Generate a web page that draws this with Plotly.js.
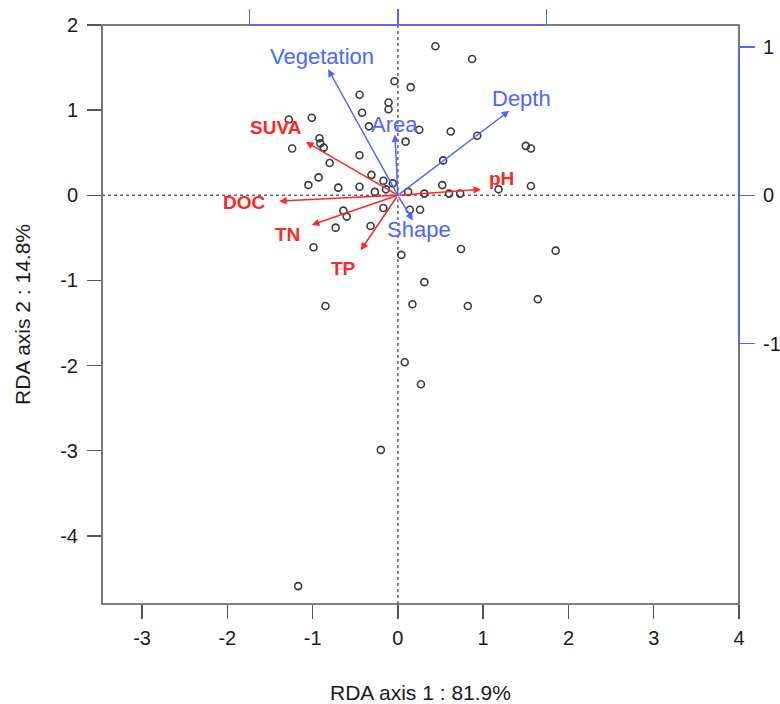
<!DOCTYPE html>
<html>
<head>
<meta charset="utf-8">
<script src="https://cdn.plot.ly/plotly-3.0.1.min.js"></script>
<style>html,body{margin:0;padding:0;background:#fff;}#chart{width:780px;height:704px;}</style>
</head>
<body>
<div id="chart"></div>
<script>
// Site scores (RDA axis 1, RDA axis 2)
const siteX = [0.44, 0.87, -0.04, 0.15, -0.45, -0.11, -0.11, -0.42, -1.01, -1.28,
  -0.34, 0.25, 0.62, 0.93, 0.09, -0.92, -0.91, -0.87, -1.24, 1.50,
  1.56, -0.45, -0.80, 0.53, -0.31, -0.93, -1.05, -0.70, -0.45, -0.17,
  -0.06, -0.27, -0.14, 0.12, 0.52, 0.31, 0.60, 0.73, 1.18, 1.56,
  -0.64, -0.60, -0.17, 0.14, 0.26, -0.73, -0.32, -0.99, 0.74, 0.04,
  1.85, 0.31, 1.64, -0.85, 0.17, 0.82, 0.08, 0.27, -0.20, -1.17];
const siteY = [1.75, 1.60, 1.34, 1.27, 1.18, 1.09, 1.01, 0.97, 0.91, 0.89,
  0.81, 0.77, 0.75, 0.70, 0.63, 0.67, 0.61, 0.56, 0.55, 0.58,
  0.55, 0.47, 0.38, 0.41, 0.24, 0.21, 0.12, 0.09, 0.10, 0.17,
  0.14, 0.04, 0.07, 0.04, 0.12, 0.02, 0.02, 0.02, 0.07, 0.11,
  -0.18, -0.25, -0.15, -0.17, -0.17, -0.38, -0.36, -0.61, -0.63, -0.70,
  -0.65, -1.02, -1.22, -1.30, -1.28, -1.30, -1.96, -2.22, -2.99, -4.59];

// Morphometric variables (blue), on the secondary scale
const morphNames = ['Vegetation', 'Area', 'Depth', 'Shape'];
const morphX = [-0.47, -0.02, 0.75, 0.10];
const morphY = [0.85, 0.41, 0.57, -0.17];

// Chemical variables (red), on the secondary scale
const chemNames = ['SUVA', 'DOC', 'TN', 'TP', 'pH'];
const chemX = [-0.62, -0.80, -0.58, -0.25, 0.56];
const chemY = [0.36, -0.04, -0.20, -0.37, 0.04];

// Tick values
const xTicks = [-3, -2, -1, 0, 1, 2, 3, 4];
const yTicks = [2, 1, 0, -1, -2, -3, -4];
const secTicks = [-1, 0, 1];

const xTitle = 'RDA axis 1 : 81.9%';
const yTitle = 'RDA axis 2 : 14.8%';

// ---- styling ----
const FONT = 'Liberation Sans, Arial, Helvetica, sans-serif';
const BLUE = '#4a68ff';
const RED = '#ff2626';
const GRAY = '#555555';
const xRange = [-3.47, 4.0];
const yRange = [-4.80, 2.0];
const k = 1.741; // ratio between secondary and primary scales
const x2Range = [xRange[0] / k, xRange[1] / k];
const y2Range = [yRange[0] / k, yRange[1] / k];

const morphShift = {
  'Vegetation': [-6, 13], 'Area': [0, 10], 'Depth': [12, 12], 'Shape': [6, -9]
};
const chemShift = {
  'SUVA': [-30, 14], 'DOC': [-35, -1], 'TN': [-24, -10], 'TP': [-17, -18], 'pH': [20, 11]
};

const traces = [
  {
    type: 'scatter', mode: 'markers', x: siteX, y: siteY, xaxis: 'x', yaxis: 'y',
    marker: {symbol: 'circle-open', size: 7, color: '#3a3a3a', line: {width: 1.6, color: '#3a3a3a'}},
    hoverinfo: 'skip', showlegend: false
  },
  {
    type: 'scatter', mode: 'markers', x: morphX.concat(chemX), y: morphY.concat(chemY),
    xaxis: 'x2', yaxis: 'y2', marker: {opacity: 0, size: 1}, hoverinfo: 'skip', showlegend: false
  }
];

const annotations = [];
function addArrows(names, xs, ys, color, shifts, font) {
  names.forEach((n, i) => {
    annotations.push({
      x: xs[i], y: ys[i], ax: 0, ay: 0, xref: 'x2', yref: 'y2', axref: 'x2', ayref: 'y2',
      text: '', showarrow: true, arrowhead: 2, arrowsize: 1, arrowwidth: 1.5,
      arrowcolor: color, standoff: 0
    });
  });
  names.forEach((n, i) => {
    annotations.push({
      x: xs[i], y: ys[i], xref: 'x2', yref: 'y2', text: n, showarrow: false,
      xanchor: 'center', yanchor: 'middle', xshift: shifts[n][0], yshift: shifts[n][1],
      font: font
    });
  });
}
addArrows(morphNames, morphX, morphY, BLUE, morphShift, {family: FONT, size: 22, color: BLUE});
addArrows(chemNames, chemX, chemY, RED, chemShift, {family: FONT, size: 19, color: RED, weight: 'bold'});

annotations.push({
  xref: 'paper', yref: 'paper', x: 0.5, y: -0.152, yanchor: 'middle', xanchor: 'center',
  text: xTitle, showarrow: false, font: {family: FONT, size: 21, color: '#1a1a1a'}
});
annotations.push({
  xref: 'paper', yref: 'paper', x: -0.125, y: 0.5, xanchor: 'center', yanchor: 'middle',
  text: yTitle, textangle: -90, showarrow: false, font: {family: FONT, size: 21, color: '#1a1a1a'}
});

const shapes = [
  {type: 'line', xref: 'x', yref: 'paper', x0: 0, x1: 0, y0: 0, y1: 1, layer: 'below',
   line: {color: '#666', width: 1.5, dash: 'dot'}},
  {type: 'line', xref: 'paper', yref: 'y', x0: 0, x1: 1, y0: 0, y1: 0, layer: 'below',
   line: {color: '#666', width: 1.5, dash: 'dot'}},
  {type: 'rect', xref: 'paper', yref: 'paper', x0: 0, x1: 1, y0: 0, y1: 1,
   line: {color: GRAY, width: 1.6}},
  {type: 'line', xref: 'x2', yref: 'paper', x0: secTicks[0], x1: secTicks[secTicks.length - 1], y0: 1, y1: 1,
   line: {color: BLUE, width: 1.6}},
  {type: 'line', xref: 'paper', yref: 'y2', x0: 1, x1: 1, y0: secTicks[0], y1: secTicks[secTicks.length - 1],
   line: {color: BLUE, width: 1.6}}
];

const tickFont = {family: FONT, size: 20, color: '#1a1a1a'};
const layout = {
  width: 780, height: 704,
  margin: {l: 102, r: 41, t: 25, b: 100},
  paper_bgcolor: '#fff', plot_bgcolor: '#fff',
  showlegend: false,
  xaxis: {
    range: xRange, tickvals: xTicks, ticktext: xTicks.map(String), ticks: 'outside', ticklen: 14,
    tickwidth: 1.5, tickcolor: GRAY, showgrid: false, zeroline: false, showline: false,
    tickfont: tickFont, ticklabelstandoff: 2, fixedrange: true
  },
  yaxis: {
    range: yRange, tickvals: yTicks, ticktext: yTicks.map(String), ticks: 'outside', ticklen: 14,
    tickwidth: 1.5, tickcolor: GRAY, showgrid: false, zeroline: false, showline: false,
    tickfont: tickFont, ticklabelstandoff: 5, fixedrange: true
  },
  xaxis2: {
    overlaying: 'x', side: 'top', anchor: 'y', range: x2Range, tickvals: secTicks, ticks: 'outside',
    ticklen: 15, tickwidth: 1.5, tickcolor: BLUE, showticklabels: false, showgrid: false,
    zeroline: false, showline: false, fixedrange: true
  },
  yaxis2: {
    overlaying: 'y', side: 'right', anchor: 'x', range: y2Range, tickvals: secTicks,
    ticktext: secTicks.map(String), ticks: 'outside', ticklen: 15, tickwidth: 1.5, tickcolor: BLUE,
    showgrid: false, zeroline: false, showline: false, tickfont: tickFont, ticklabelstandoff: 4,
    fixedrange: true
  },
  annotations: annotations,
  shapes: shapes
};

Plotly.newPlot('chart', traces, layout, {displayModeBar: false, staticPlot: true});
</script>
</body>
</html>
